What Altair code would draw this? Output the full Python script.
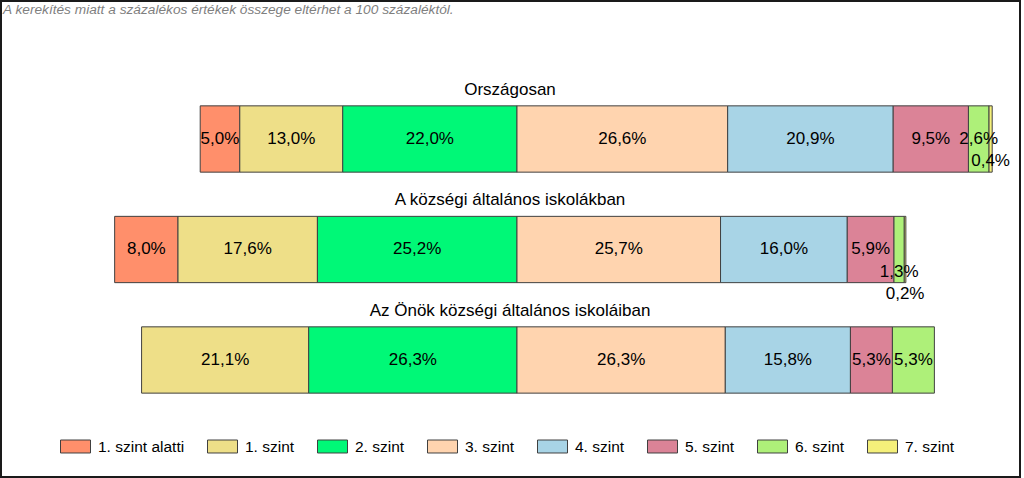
import altair as alt
import pandas as pd

groups = ["Országosan", "A községi általános iskolákban", "Az Önök községi általános iskoláiban"]
levels = ["1. szint alatti", "1. szint", "2. szint", "3. szint", "4. szint", "5. szint", "6. szint", "7. szint"]
orszagosan = [5.0, 13.0, 22.0, 26.6, 20.9, 9.5, 2.6, 0.4]
kozsegi = [8.0, 17.6, 25.2, 25.7, 16.0, 5.9, 1.3, 0.2]
onok = [0.0, 21.1, 26.3, 26.3, 15.8, 5.3, 5.3, 0.0]
colors = ["#FF8F6B", "#EEDF88", "#00F877", "#FFD4AF", "#A8D4E6", "#DB8397", "#AEF079", "#F5F07A"]
note = "A kerekítés miatt a  százalékos értékek összege eltérhet a 100 százaléktól."

FONT = "Liberation Sans"

rows = []
for gi, (g, vals) in enumerate(zip(groups, [orszagosan, kozsegi, onok])):
    start = -sum(vals[:3])  # bars are aligned on the 2./3. szint boundary
    small = 0
    for li, (lvl, v) in enumerate(zip(levels, vals)):
        end = start + v
        if v > 0:
            k = 0
            if v < 2:
                small += 1
                k = small
            rows.append(dict(
                group=g, row=gi, level=lvl, order=li, start=start, end=end,
                mid=(start + end) / 2,
                label=f"{v:.1f}".replace(".", ",") + "%",
                label_row=gi + 0.2 * k,
                y0=gi - 0.3, y1=gi + 0.3,
            ))
        start = end
df = pd.DataFrame(rows)
titles = pd.DataFrame({"group": groups, "row": list(range(len(groups)))})

xscale = alt.Scale(domain=[-65.15, 63.51], nice=False, zero=False)
yscale = alt.Scale(domain=[-1.249, 3.059], nice=False, zero=False, reverse=True)

bars = alt.Chart(df).mark_rect(stroke="#404040", strokeWidth=1).encode(
    x=alt.X("start:Q", scale=xscale, axis=None),
    x2="end:Q",
    y=alt.Y("y0:Q", scale=yscale, axis=None),
    y2="y1:Q",
    color=alt.Color(
        "level:N",
        scale=alt.Scale(domain=levels, range=colors),
        sort=levels,
        legend=alt.Legend(
            title=None, orient="none", direction="horizontal", columns=8,
            legendX=59, legendY=430, padding=0,
            symbolType="M-1,-0.433H1V0.433H-1Z", symbolSize=900,
            symbolStrokeColor="#404040", symbolStrokeWidth=1, symbolOpacity=1,
            labelFont=FONT, labelFontSize=15.5, labelColor="#000000",
            labelOffset=7, columnPadding=20, labelLimit=300,
        ),
    ),
)

labels = alt.Chart(df).mark_text(font=FONT, fontSize=17, color="#000000").encode(
    x=alt.X("mid:Q", scale=xscale, axis=None),
    y=alt.Y("label_row:Q", scale=yscale, axis=None),
    text="label:N",
)

title_text = alt.Chart(titles).mark_text(font=FONT, fontSize=17, color="#000000", dy=-49).encode(
    x=alt.value(509),
    y=alt.Y("row:Q", scale=yscale, axis=None),
    text="group:N",
)

note_text = alt.Chart(pd.DataFrame({"t": [note]})).mark_text(
    font=FONT, fontSize=13.7, fontStyle="italic", color="#7F7F7F", align="left", baseline="alphabetic"
).encode(x=alt.value(2), y=alt.value(13), text="t:N")

chart = alt.layer(bars, labels, title_text, note_text).properties(
    width=1019, height=476,
    autosize=alt.AutoSizeParams(type="none"),
    padding={"left": 1, "top": 1, "right": 4, "bottom": 1},
    background="#FFFFFF",
).configure_view(stroke="#1A1A1A", strokeWidth=2)

chart.save("out.html", embed_options={"renderer": "svg", "actions": False})
